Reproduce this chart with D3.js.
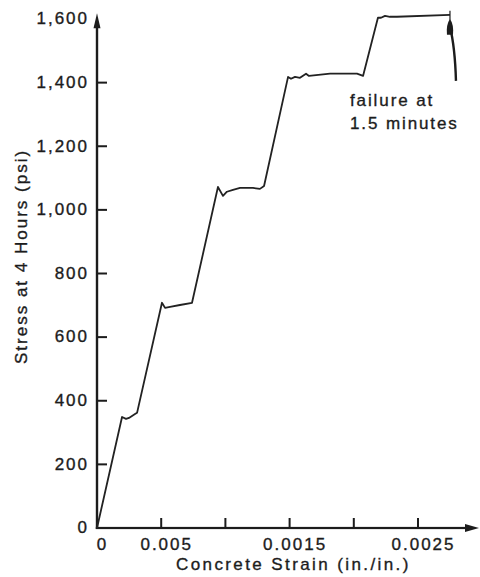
<!DOCTYPE html>
<html>
<head>
<meta charset="utf-8">
<script src="https://cdn.jsdelivr.net/npm/d3@7"></script>
<style>
  html, body { margin: 0; padding: 0; background: #ffffff; }
  svg { display: block; }
  text { font-family: "Liberation Sans", Arial, Helvetica, sans-serif; fill: #1c1c1c; }
</style>
</head>
<body>
<svg id="chart" width="480" height="577"></svg>
<script>
// Concrete strain (in./in.) recorded while the load was raised in steps
const strain = [
  0, 0.000195, 0.000226, 0.000249, 0.000296, 0.000312,
  0.000506, 0.000530, 0.000569, 0.000646, 0.000740,
  0.000942, 0.000981, 0.001012, 0.001059, 0.001114, 0.001215, 0.001269, 0.001301,
  0.001488, 0.001511, 0.001542, 0.001581, 0.001628, 0.001651, 0.001815, 0.002025, 0.002072,
  0.002188, 0.002212, 0.002243, 0.002282, 0.002336, 0.002749
];
// Stress at 4 hours (psi) for each strain reading
const stress = [
  0, 349, 343, 346, 358, 362,
  708, 692, 695, 701, 708,
  1072, 1044, 1057, 1063, 1069, 1069, 1066, 1075,
  1418, 1412, 1418, 1415, 1428, 1421, 1428, 1428, 1421,
  1604, 1604, 1610, 1607, 1607, 1613
];

const xTickValues = [0, 0.0005, 0.001, 0.0015, 0.002, 0.0025];
const xTickLabels = ["0", "0.005", "", "0.0015", "", "0.0025"];
const yTickValues = [0, 200, 400, 600, 800, 1000, 1200, 1400, 1600];
const yTickLabels = ["0", "200", "400", "600", "800", "1,000", "1,200", "1,400", "1,600"];

const xTitle = "Concrete Strain (in./in.)";
const yTitle = "Stress at 4 Hours (psi)";
const noteLines = ["failure at", "1.5 minutes"];

const xMax = 0.002975;   // end of the strain axis arrow
const yMax = 1618;       // end of the stress axis arrow

const svg = d3.select("#chart");
const ink = "#1c1c1c";
const textStroke = 0.35;

const x = d3.scaleLinear().domain([0, 0.0025]).range([97, 418]);
const y = d3.scaleLinear().domain([0, 1600]).range([528, 19]);

function styleText(sel, spacing) {
  sel.attr("font-size", 17)
    .attr("letter-spacing", spacing + "px")
    .attr("fill", ink)
    .attr("stroke", ink)
    .attr("stroke-width", textStroke)
    .style("font-family", '"Liberation Sans", Arial, sans-serif');
}

const x0 = x(0), y0 = y(0);
const yTop = y(yMax), xEnd = x(xMax);

// vertical axis bar and its ticks, drawn as filled rectangles
svg.append("rect")
  .attr("x", x0 - 1.2).attr("y", yTop + 10)
  .attr("width", 2.4).attr("height", y0 + 1 - (yTop + 10))
  .attr("fill", ink);
svg.append("g").selectAll("rect")
  .data(yTickValues.filter(d => d > 0 && d < 1600))
  .join("rect")
  .attr("x", x0).attr("y", d => y(d) - 1)
  .attr("width", 10).attr("height", 2)
  .attr("fill", ink);
svg.append("path")
  .attr("d", `M${x0},${yTop}L${x0 + 3.5},${yTop + 15}L${x0 - 3.5},${yTop + 15}Z`)
  .attr("fill", ink);

// stress tick labels
const yAxis = d3.axisLeft(y)
  .tickValues(yTickValues)
  .tickSize(0)
  .tickPadding(8)
  .tickFormat((d, i) => yTickLabels[i]);
const gy = svg.append("g").attr("transform", `translate(${x0},0)`).call(yAxis);
gy.select(".domain").remove();
gy.selectAll(".tick line").remove();
gy.selectAll(".tick text").call(styleText, 2).attr("dy", "0.28em");

// horizontal axis bar and its upward ticks
svg.append("rect")
  .attr("x", x0 - 1.2).attr("y", y0 - 1.1)
  .attr("width", xEnd - 10 - (x0 - 1.2)).attr("height", 2.2)
  .attr("fill", ink);
svg.append("g").selectAll("rect")
  .data(xTickValues.filter(d => d > 0))
  .join("rect")
  .attr("x", d => x(d) - 1).attr("y", y0 - 10)
  .attr("width", 2).attr("height", 10)
  .attr("fill", ink);
svg.append("path")
  .attr("d", `M${xEnd},${y0}L${xEnd - 14},${y0 - 4}L${xEnd - 14},${y0 + 4}Z`)
  .attr("fill", ink);

// strain tick labels
const xAxis = d3.axisBottom(x)
  .tickValues(xTickValues)
  .tickSize(0)
  .tickPadding(10)
  .tickFormat((d, i) => xTickLabels[i]);
const gx = svg.append("g").attr("transform", `translate(0,${y0})`).call(xAxis);
gx.select(".domain").remove();
gx.selectAll(".tick line").remove();
gx.selectAll(".tick text").call(styleText, 2).attr("dx", "5").attr("dy", "0.72em");

// stress-strain trace
const pts = strain.map((s, i) => [s, stress[i]]);
svg.append("path")
  .datum(pts)
  .attr("fill", "none")
  .attr("stroke", "#222")
  .attr("stroke-width", 1.8)
  .attr("stroke-linejoin", "round")
  .attr("d", d3.line().x(d => x(d[0])).y(d => y(d[1])));

// failure pointer rising from below to the end of the last plateau
const lx = x(strain[strain.length - 1]);
const ly = y(stress[stress.length - 1]);
const notePath = d3.path();
notePath.moveTo(lx + 6, ly + 66);
notePath.quadraticCurveTo(lx + 5, ly + 32, lx, ly + 12);
svg.append("path")
  .attr("d", notePath.toString())
  .attr("fill", "none").attr("stroke", ink).attr("stroke-width", 2.4);
svg.append("path")
  .attr("d", `M${lx},${ly + 4} Q${lx + 4},${ly + 10} ${lx + 3},${ly + 20} L${lx - 3},${ly + 20} Q${lx - 4},${ly + 10} ${lx},${ly + 4}Z`)
  .attr("fill", ink);
svg.append("line")
  .attr("x1", lx).attr("x2", lx)
  .attr("y1", ly - 4).attr("y2", ly + 5)
  .attr("stroke", ink).attr("stroke-width", 1.2);

const note = svg.append("text")
  .attr("x", lx - 100).attr("y", ly + 91)
  .call(styleText, 1.9);
note.selectAll("tspan").data(noteLines).join("tspan")
  .attr("x", lx - 100)
  .attr("dy", (d, i) => i === 0 ? 0 : 23)
  .text(d => d);

// axis titles
svg.append("text")
  .attr("x", 176).attr("y", 570)
  .call(styleText, 2.4)
  .text(xTitle);
svg.append("text")
  .attr("transform", "translate(27,364) rotate(-90)")
  .call(styleText, 2)
  .text(yTitle);
</script>
</body>
</html>
